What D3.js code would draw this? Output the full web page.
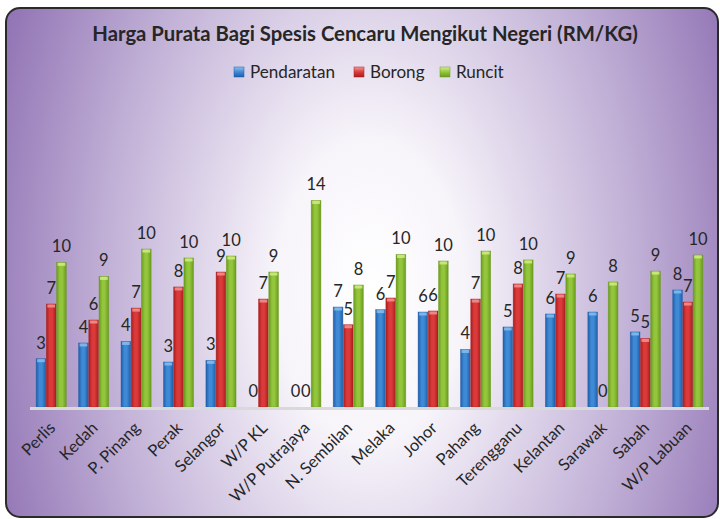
<!DOCTYPE html>
<html><head><meta charset="utf-8">
<script src="https://cdn.jsdelivr.net/npm/d3@7"></script>
<style>html,body{margin:0;padding:0;background:#fff;}svg{display:block;}</style>
</head><body>
<svg id="c" width="720" height="519"></svg>
<script>
const categories = ["Perlis","Kedah","P. Pinang","Perak","Selangor","W/P KL","W/P Putrajaya","N. Sembilan","Melaka","Johor","Pahang","Terengganu","Kelantan","Sarawak","Sabah","W/P Labuan"];
const seriesNames = ["Pendaratan","Borong","Runcit"];
const pendaratan = [3.2,4.24,4.34,2.98,3.09,0,0,6.62,6.45,6.29,3.81,5.3,6.16,6.29,4.97,7.75];
const borong     = [6.82,5.76,6.55,7.95,8.94,7.15,0,5.45,7.22,6.36,7.15,8.15,7.48,0,4.54,6.95];
const runcit     = [9.58,8.65,10.46,9.87,10.0,8.94,13.68,8.08,10.1,9.67,10.33,9.74,8.81,8.28,9.0,10.07];
const titleText = "Harga Purata Bagi Spesis Cencaru Mengikut Negeri (RM/KG)";

const series = [pendaratan, borong, runcit];
const colors = [
  {dark:"#1f5ea8", mid:"#3f8ad6", light:"#8cc0ef"},
  {dark:"#a81e1e", mid:"#dc3a3a", light:"#f49a9a"},
  {dark:"#6a9a1e", mid:"#93c63c", light:"#d6ef8a"}
];

const svg = d3.select("#c");
const defs = svg.append("defs");
const bg = defs.append("radialGradient").attr("id","bg")
  .attr("gradientUnits","userSpaceOnUse").attr("cx",370).attr("cy",290).attr("r",430)
  .attr("gradientTransform","translate(370,290) scale(1,1.6) translate(-370,-290)");
bg.append("stop").attr("offset",0).attr("stop-color","#ffffff");
bg.append("stop").attr("offset",0.22).attr("stop-color","#f7f4fa");
bg.append("stop").attr("offset",0.6).attr("stop-color","#c3b3d8");
bg.append("stop").attr("offset",1).attr("stop-color","#8767ad");

colors.forEach((c,i)=>{
  const g = defs.append("linearGradient").attr("id","bar"+i).attr("x1",0).attr("x2",1).attr("y1",0).attr("y2",0);
  g.append("stop").attr("offset",0).attr("stop-color",c.dark);
  g.append("stop").attr("offset",0.35).attr("stop-color",c.mid);
  g.append("stop").attr("offset",0.6).attr("stop-color",c.mid);
  g.append("stop").attr("offset",1).attr("stop-color",c.dark);
  const l = defs.append("linearGradient").attr("id","leg"+i).attr("x1",0).attr("x2",0).attr("y1",0).attr("y2",1);
  l.append("stop").attr("offset",0).attr("stop-color",c.light);
  l.append("stop").attr("offset",0.5).attr("stop-color",c.mid);
  l.append("stop").attr("offset",1).attr("stop-color",c.dark);
});

svg.append("rect").attr("x",6).attr("y",8).attr("width",712).attr("height",509).attr("rx",14)
  .attr("fill","url(#bg)").attr("stroke","#2a2a2a").attr("stroke-width",2);

const font = "Lato, 'Open Sans', sans-serif";
function fitFont(sel, base, target){
  const w = sel.node().getComputedTextLength();
  const fs = base * target / w;
  sel.attr("font-size", fs);
  return fs;
}
const title = svg.append("text").attr("x",365).attr("y",41).attr("text-anchor","middle")
  .attr("font-family",font).attr("font-weight","bold").attr("font-size",18).attr("fill","#262626")
  .text(titleText);
fitFont(title, 18, 546);

// legend
const legX = [234, 354, 440];
const leg = svg.append("g");
let legFs = null;
seriesNames.forEach((n,i)=>{
  leg.append("rect").attr("x",legX[i]).attr("y",67).attr("width",10).attr("height",10)
    .attr("fill","url(#leg"+i+")").attr("stroke",colors[i].dark).attr("stroke-width",0.5);
  const t = leg.append("text").attr("x",legX[i]+16).attr("y",78).attr("font-family",font).attr("font-size",14)
    .attr("fill","#262626").text(n);
  if (i===0) legFs = fitFont(t, 14, 85); else t.attr("font-size", legFs);
});

const baseY = 407;
const y = d3.scaleLinear().domain([0,16]).range([baseY, baseY-16*15.1]);
const x0 = d3.scaleBand().domain(categories).range([30,709]).paddingInner(0.29).paddingOuter(0.145);
const x1 = d3.scaleBand().domain(d3.range(3)).range([0,x0.bandwidth()]).paddingInner(0.05);

const fmt = d3.format(".0f");
const groups = svg.append("g").selectAll("g").data(categories).join("g")
  .attr("transform",d=>`translate(${x0(d)},0)`);

groups.each(function(cat,ci){
  const g = d3.select(this);
  series.forEach((s,si)=>{
    const v = s[ci];
    const bx = x1(si), bw = x1.bandwidth();
    if (v > 0) {
      g.append("rect").attr("x",bx).attr("y",y(v)).attr("width",bw).attr("height",y(0)-y(v))
        .attr("fill","url(#bar"+si+")").attr("stroke",colors[si].dark).attr("stroke-opacity",0.6).attr("stroke-width",0.7);
      g.append("rect").attr("x",bx+1).attr("y",y(v)+0.5).attr("width",bw-2).attr("height",3)
        .attr("fill",colors[si].light).attr("opacity",0.8);
    }
    g.append("text").attr("x",bx+bw/2).attr("y",y(v)-10).attr("text-anchor","middle")
      .attr("font-family",font).attr("font-size",16.5).attr("fill","#262626").text(fmt(v));
  });
});

// axis line
svg.append("line").attr("x1",30).attr("x2",709).attr("y1",baseY+1.5).attr("y2",baseY+1.5)
  .attr("stroke","#d9d9d9").attr("stroke-width",3);

// category labels
const xa = d3.axisBottom(x0).tickSize(0).tickPadding(0);
const ag = svg.append("g").attr("transform",`translate(0,${baseY+3})`).call(xa);
ag.select(".domain").remove();
ag.selectAll("text").attr("font-family",font).attr("font-size",16.5).attr("fill","#262626")
  .attr("text-anchor","end").attr("dy",0)
  .attr("transform","translate(5,19) rotate(-45)");
</script>
</body></html>
